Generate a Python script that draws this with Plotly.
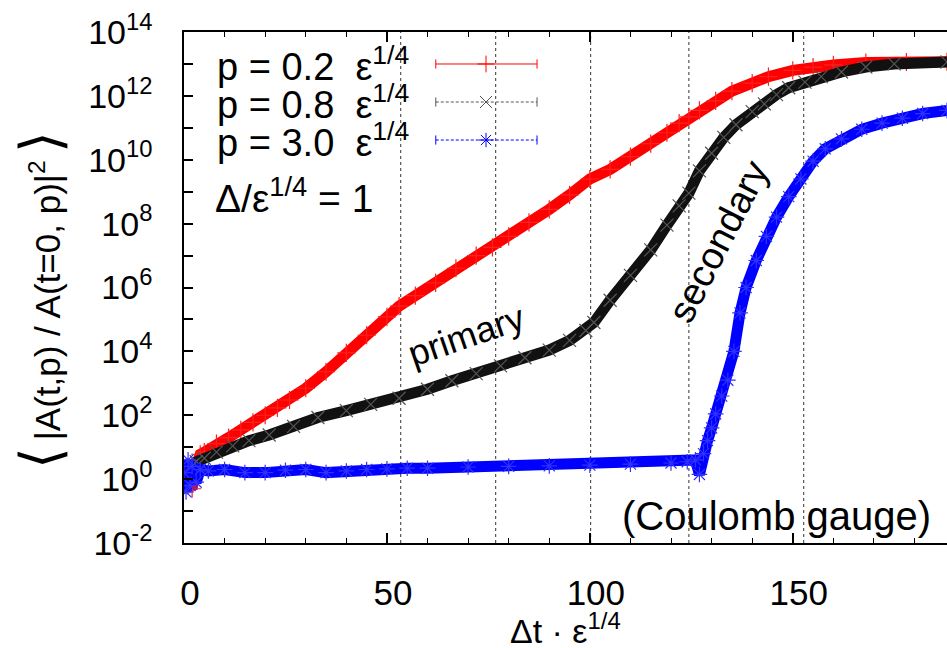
import plotly.graph_objects as go

# ---------------- data ----------------
t_p02 = [0, 1, 2, 3, 4, 5, 8, 11, 14, 17, 20, 23, 26, 30, 35, 40, 45, 50, 53, 57, 62, 67, 72, 76, 80,
         85, 90, 95, 100, 105, 110, 115, 119, 122, 124.4, 127, 131, 135, 140, 144, 150, 155, 160, 168, 178, 188]
v_p02 = [1.0, 0.63, 0.5, 2.5, 6.0, 7.0, 1.3e1, 2.0e1, 3.5e1, 6.0e1, 1.0e2, 1.7e2, 3.0e2, 7.0e2, 2.3e3, 9.0e3,
         3.2e4, 1.2e5, 2.6e5, 5.6e5, 1.4e6, 4.0e6, 1.0e7, 1.8e7, 4.0e7, 1.1e8, 2.8e8, 8.0e8, 2.5e9, 5.0e9,
         1.25e10, 3.2e10, 7.0e10, 1.4e11, 2.2e11, 3.5e11, 7.0e11, 1.4e12, 2.5e12, 4.0e12, 6.3e12, 8.0e12,
         9.3e12, 1.1e13, 1.15e13, 1.17e13]

t_p08 = [0, 1, 2, 3, 5, 8, 12, 16, 21, 27, 33, 40, 46, 53, 60, 66, 72, 78, 84, 90, 95, 99, 101, 105, 110,
         115, 119, 122, 124.4, 127, 130, 133, 136, 140, 143, 146, 149, 153, 157, 162, 168, 175, 188]
v_p08 = [1.0, 2.0, 2.8, 3.5, 4.5, 7.0, 1.1e1, 1.6e1, 2.4e1, 4.5e1, 8.5e1, 1.4e2, 2.2e2, 3.4e2, 6.5e2,
         1.2e3, 2.0e3, 3.5e3, 6.3e3, 1.1e4, 2.2e4, 4.5e4, 8.0e4, 4.0e5, 2.4e6, 1.5e7, 9.0e7, 3.6e8,
         9.0e8, 4.5e9, 1.6e10, 5.0e10, 1.25e11, 3.2e11, 5.6e11, 1.1e12, 1.8e12, 2.7e12, 4.0e12, 5.6e12,
         8.0e12, 1.0e13, 1.15e13]

t_p30 = [0, 0.5, 1, 1.5, 2, 3, 4, 6, 10, 15, 20, 25, 30, 35, 40, 45, 50, 55, 60, 70, 80, 90, 100, 110,
         120, 124, 126, 127, 128, 129, 130, 131, 132.5, 134, 135.5, 137, 138.5, 141, 143.5, 146, 149, 152,
         155, 158, 162, 167, 172, 177, 182, 188]
v_p30 = [1.6, 0.4, 4.0, 0.63, 2.5, 0.8, 2.0, 1.8, 2.0, 1.6, 1.6, 1.9, 2.0, 1.6, 1.8, 2.0, 2.1, 2.2, 2.2,
         2.4, 2.5, 2.6, 2.75, 2.95, 3.2, 3.5, 4.0, 1.4, 6.3, 1.6e1, 4.0e1, 1.1e2, 4.0e2, 1.25e3, 1.0e4,
         1.6e5, 1.0e6, 7.0e6, 4.0e7, 1.6e8, 7.0e8, 2.5e9, 9.0e9, 2.2e10, 4.5e10, 9.0e10, 1.4e11, 2.0e11,
         2.8e11, 3.5e11]

vlines_t = [53.4, 76.8, 100.2, 124.4, 152.7]

x_ticks = [0, 50, 100, 150]
y_exponents = list(range(-2, 15))
y_tickvals = [10.0 ** k for k in y_exponents]
y_ticktext = [("10<sup>%d</sup>" % k) if k % 2 == 0 else "" for k in y_exponents]

legend_labels = ["p = 0.2\u00a0\u00a0ε<sup>1/4</sup>",
                 "p = 0.8\u00a0\u00a0ε<sup>1/4</sup>",
                 "p = 3.0\u00a0\u00a0ε<sup>1/4</sup>"]

FONT = "Liberation Sans, Arial, Helvetica, sans-serif"

fig = go.Figure()

series = [
    (t_p02, v_p02, "#ff0000", "#ff2020", "cross-thin"),
    (t_p08, v_p08, "#111111", "#555555", "x-thin"),
    (t_p30, v_p30, "#0000ff", "#3030ff", "asterisk"),
]
for t, v, col, mcol, sym in series:
    fig.add_trace(go.Scatter(
        x=t, y=v, mode="lines+markers",
        line=dict(color=col, width=11),
        marker=dict(symbol=sym, size=13, color=mcol, line=dict(color=mcol, width=1.2)),
        showlegend=False, hoverinfo="skip"))

# vertical dashed reference lines
for xv in vlines_t:
    fig.add_shape(type="line", xref="x", yref="paper", x0=xv, x1=xv, y0=0, y1=1,
                  line=dict(color="#333333", width=1, dash="3px,3px"), layer="below")

# ---------------- gnuplot-like key (text left, sample right) ----------------
key_rows_y = [0.9374, 0.863, 0.7886]
key_x0, key_x1, key_xm = 0.330, 0.4627, 0.3958
key_styles = [("#ff0000", "solid", "cross-thin"), ("#555555", "dash", "x-thin"), ("#0000ff", "dash", "asterisk")]
for (col, dash, sym), yk, lab in zip(key_styles, key_rows_y, legend_labels):
    d = "solid" if dash == "solid" else "3px,2px"
    fig.add_shape(type="line", xref="paper", yref="paper", x0=key_x0, x1=key_x1, y0=yk, y1=yk,
                  line=dict(color=col, width=1, dash=d))
    for xe in (key_x0, key_x1):
        fig.add_shape(type="line", xref="paper", yref="paper", x0=xe, x1=xe, y0=yk - 0.009, y1=yk + 0.009,
                      line=dict(color=col, width=1))
    fig.add_trace(go.Scatter(x=[key_xm], y=[yk], xaxis="x2", yaxis="y2", mode="markers",
                             marker=dict(symbol=sym, size=12, color=col, line=dict(color=col, width=1)),
                             showlegend=False, hoverinfo="skip"))
    fig.add_annotation(xref="paper", yref="paper", x=0.0406, y=yk, xanchor="left", yanchor="middle",
                       text=lab, showarrow=False, font=dict(family=FONT, size=38, color="black"))

fig.add_annotation(xref="paper", yref="paper", x=0.038, y=0.68, xanchor="left", yanchor="middle",
                   text="Δ/ε<sup>1/4</sup> = 1", showarrow=False,
                   font=dict(family=FONT, size=39, color="black"))

# curve labels
fig.add_annotation(xref="paper", yref="paper", x=0.3696, y=0.407, xanchor="center", yanchor="middle",
                   text="primary", textangle=-19,
                   showarrow=False, font=dict(family=FONT, size=36, color="black"))
fig.add_annotation(xref="paper", yref="paper", x=0.6999, y=0.589, xanchor="center", yanchor="middle",
                   text="secondary", textangle=-63,
                   showarrow=False, font=dict(family=FONT, size=38, color="black"))
fig.add_annotation(xref="paper", yref="paper", x=0.7759, y=0.0528, xanchor="center", yanchor="middle",
                   text="(Coulomb gauge)",
                   showarrow=False, font=dict(family=FONT, size=40, color="black"))

# axis titles
fig.add_annotation(xref="paper", yref="paper", x=0.5, y=-0.168, xanchor="center", yanchor="middle",
                   text="Δt · ε<sup>1/4</sup>", showarrow=False, borderpad=0,
                   font=dict(family=FONT, size=34, color="black"))
fig.add_annotation(xref="paper", yref="paper", x=-0.1887, y=0.475, xanchor="center", yanchor="middle",
                   textangle=-90,
                   text='<span style="font-size:56px">⟨</span>\u2009|A(t,p) / A(t=0, p)|<sup>2</sup>\u2009<span style="font-size:56px">⟩</span>',
                   showarrow=False, font=dict(family=FONT, size=35, color="black"))

fig.update_layout(
    width=947, height=648,
    margin=dict(l=184, r=0, t=32, b=105),
    paper_bgcolor="white", plot_bgcolor="white",
    showlegend=False,
    xaxis=dict(range=[0, 188], showgrid=False, zeroline=False,
               showline=True, linecolor="black", linewidth=1.5, mirror="ticks",
               ticks="inside", ticklen=10, tickwidth=1.5, tickcolor="black",
               tickvals=x_ticks, ticktext=[str(v) for v in x_ticks],
               tickfont=dict(family=FONT, size=35, color="black"),
               ticklabelstandoff=18, ticklabelshift=6,
               minor=dict(dtick=10, ticks="inside", ticklen=5, tickwidth=1.2, tickcolor="black")),
    yaxis=dict(type="log", range=[-2, 14], showgrid=False, zeroline=False,
               showline=True, linecolor="black", linewidth=1.5, mirror=False,
               ticks="inside", ticklen=9, tickwidth=1.5, tickcolor="black",
               tickvals=y_tickvals, ticktext=y_ticktext,
               tickfont=dict(family=FONT, size=34, color="black"),
               ticklabelstandoff=23),
    xaxis2=dict(overlaying="x", range=[0, 1], visible=False, fixedrange=True),
    yaxis2=dict(overlaying="y", range=[0, 1], visible=False, fixedrange=True),
)

fig.write_html("out.html")
